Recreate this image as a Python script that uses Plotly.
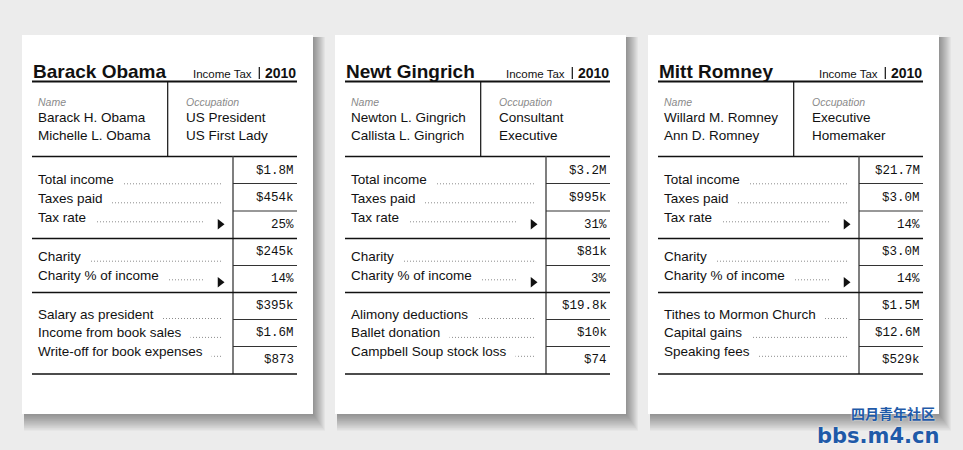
import plotly.graph_objects as go

# ---- data ----
titles = ["Barack Obama", "Newt Gingrich", "Mitt Romney"]
form_label = "Income Tax"
form_year = "2010"
filer_names = [["Barack H. Obama", "Michelle L. Obama"],
               ["Newton L. Gingrich", "Callista L. Gingrich"],
               ["Willard M. Romney", "Ann D. Romney"]]
occupations = [["US President", "US First Lady"],
               ["Consultant", "Executive"],
               ["Executive", "Homemaker"]]

tax_labels = ["Total income", "Taxes paid", "Tax rate"]
total_income = ["$1.8M", "$3.2M", "$21.7M"]
taxes_paid = ["$454k", "$995k", "$3.0M"]
tax_rate = ["25%", "31%", "14%"]

charity_labels = ["Charity", "Charity % of income"]
charity = ["$245k", "$81k", "$3.0M"]
charity_pct = ["14%", "3%", "14%"]

extra_labels = [["Salary as president", "Income from book sales", "Write-off for book expenses"],
                ["Alimony deductions", "Ballet donation", "Campbell Soup stock loss"],
                ["Tithes to Mormon Church", "Capital gains", "Speaking fees"]]
extra_values = [["$395k", "$1.6M", "$873"],
                ["$19.8k", "$10k", "$74"],
                ["$1.5M", "$12.6M", "$529k"]]

# ---- layout constants (pixel space, y down) ----
W, H = 963, 450
STEP = 313
BG = "#ececec"
SANS = "Liberation Sans, Arial, sans-serif"
MONO = "Liberation Mono, Courier New, monospace"

shapes = []
annotations = []
arrow_x, arrow_y = [], []


def line(x0, y0, x1, y1, width=1.5, color="#111", dash=None):
    shapes.append(dict(type="line", x0=x0, y0=y0, x1=x1, y1=y1, xref="x", yref="y", layer="below",
                       line=dict(color=color, width=width, dash=dash)))


def text(x, y, s, size, color="#111", anchor="left", family=SANS, bg=None):
    annotations.append(dict(x=x, y=y, text=s, xref="x", yref="y", showarrow=False,
                            xanchor=anchor, yanchor="middle", bgcolor=bg,
                            borderpad=1 if bg else 0,
                            font=dict(family=family, size=size, color=color)))


def label_row(o, y, label, with_arrow=False):
    # dotted leader sits under the label; label box is white to hide it
    end = 204 if with_arrow else 221.5
    line(o + 40, y + 4.5, o + end, y + 4.5, width=1, color="#8c8c8c", dash="1px,2px")
    text(o + 35.5, y, label + "\u00a0\u00a0", 13.5, bg="white")
    if with_arrow:
        arrow_x.append(o + 220)
        arrow_y.append(y + 7)


for i in range(3):
    o = STEP * i
    left, right, top, bottom = 22 + o, 313 + o, 35, 414

    # drop shadow
    for k in range(1, 13):
        shapes.append(dict(type="rect", x0=left + 2, y0=top + 2, x1=right + k, y1=bottom + k * 1.4,
                           xref="x", yref="y", layer="below",
                           fillcolor="rgba(0,0,0,0.035)", line=dict(width=0)))
    shapes.append(dict(type="rect", x0=left, y0=top, x1=right, y1=bottom, xref="x", yref="y",
                       layer="below", fillcolor="white", line=dict(width=0)))

    # header
    text(o + 31.5, 71.5, "<b>" + titles[i] + "</b>", 19)
    text(o + 253, 74.2, form_label, 11.5, anchor="right")
    line(o + 259.3, 67, o + 259.3, 79, width=1.2)
    text(o + 297, 73.3, "<b>" + form_year + "</b>", 14, anchor="right")
    line(o + 32, 81.5, o + 297, 81.5, width=2)

    # name / occupation box
    line(o + 167.7, 81.5, o + 167.7, 156.5, width=1.2)
    text(o + 36.5, 101.5, "<i>Name</i>", 10.5, color="#8a8a8a")
    text(o + 185, 101.5, "<i>Occupation</i>", 10.5, color="#8a8a8a")
    for j in range(2):
        text(o + 36.5, 117.3 + j * 18.3, filer_names[i][j], 13.5)
        text(o + 185, 117.3 + j * 18.3, occupations[i][j], 13.5)
    line(o + 32, 156.5, o + 297, 156.5)

    # value column
    line(o + 233, 156.5, o + 233, 374, width=1.5, color="#555")
    for yy in [183.5, 211, 265.5, 319.5, 346.5]:
        line(o + 233, yy, o + 297, yy, width=1.2, color="#333")
    for yy in [238.5, 292.5, 374]:
        line(o + 32, yy, o + 297, yy)

    # taxes section
    for j, lab in enumerate(tax_labels):
        label_row(o, 179.3 + j * 19, lab, with_arrow=(j == 2))
    for yy, v in zip([170.5, 197.5, 224.5], [total_income[i], taxes_paid[i], tax_rate[i]]):
        text(o + 295, yy, v, 12.5, family=MONO, anchor="right")

    # charity section
    for j, lab in enumerate(charity_labels):
        label_row(o, 256.7 + j * 18.6, lab, with_arrow=(j == 1))
    for yy, v in zip([251.7, 279], [charity[i], charity_pct[i]]):
        text(o + 295, yy, v, 12.5, family=MONO, anchor="right")

    # notable items
    for j, lab in enumerate(extra_labels[i]):
        label_row(o, 314 + j * 18.9, lab)
    for yy, v in zip([305.8, 333, 360.3], extra_values[i]):
        text(o + 295, yy, v, 12.5, family=MONO, anchor="right")

# watermark
annotations.append(dict(x=937, y=413, text="<b>四月青年社区</b>", xref="x", yref="y", showarrow=False,
                        xanchor="right", yanchor="middle",
                        font=dict(family="Noto Sans CJK SC", size=14, color="#1f5aa8",
                                  shadow="0 0 2px white")))
annotations.append(dict(x=941, y=435.5, text="<b>bbs.m4.cn</b>", xref="x", yref="y", showarrow=False,
                        xanchor="right", yanchor="middle",
                        font=dict(family="DejaVu Sans", size=21, color="#1f5aa8",
                                  shadow="0 0 2px white")))

fig = go.Figure()
fig.add_trace(go.Scatter(x=arrow_x, y=arrow_y, mode="markers", hoverinfo="skip",
                         marker=dict(symbol="triangle-right", size=9, color="#111"),
                         cliponaxis=False))

fig.update_layout(
    width=W, height=H, margin=dict(l=0, r=0, t=0, b=0),
    paper_bgcolor=BG, plot_bgcolor=BG, showlegend=False,
    shapes=shapes, annotations=annotations,
    xaxis=dict(range=[0, W], visible=False, fixedrange=True),
    yaxis=dict(range=[H, 0], visible=False, fixedrange=True),
)

fig.write_html("out.html", config={"displayModeBar": False},
               post_script="document.body.style.margin='0';document.body.style.overflow='hidden';")
